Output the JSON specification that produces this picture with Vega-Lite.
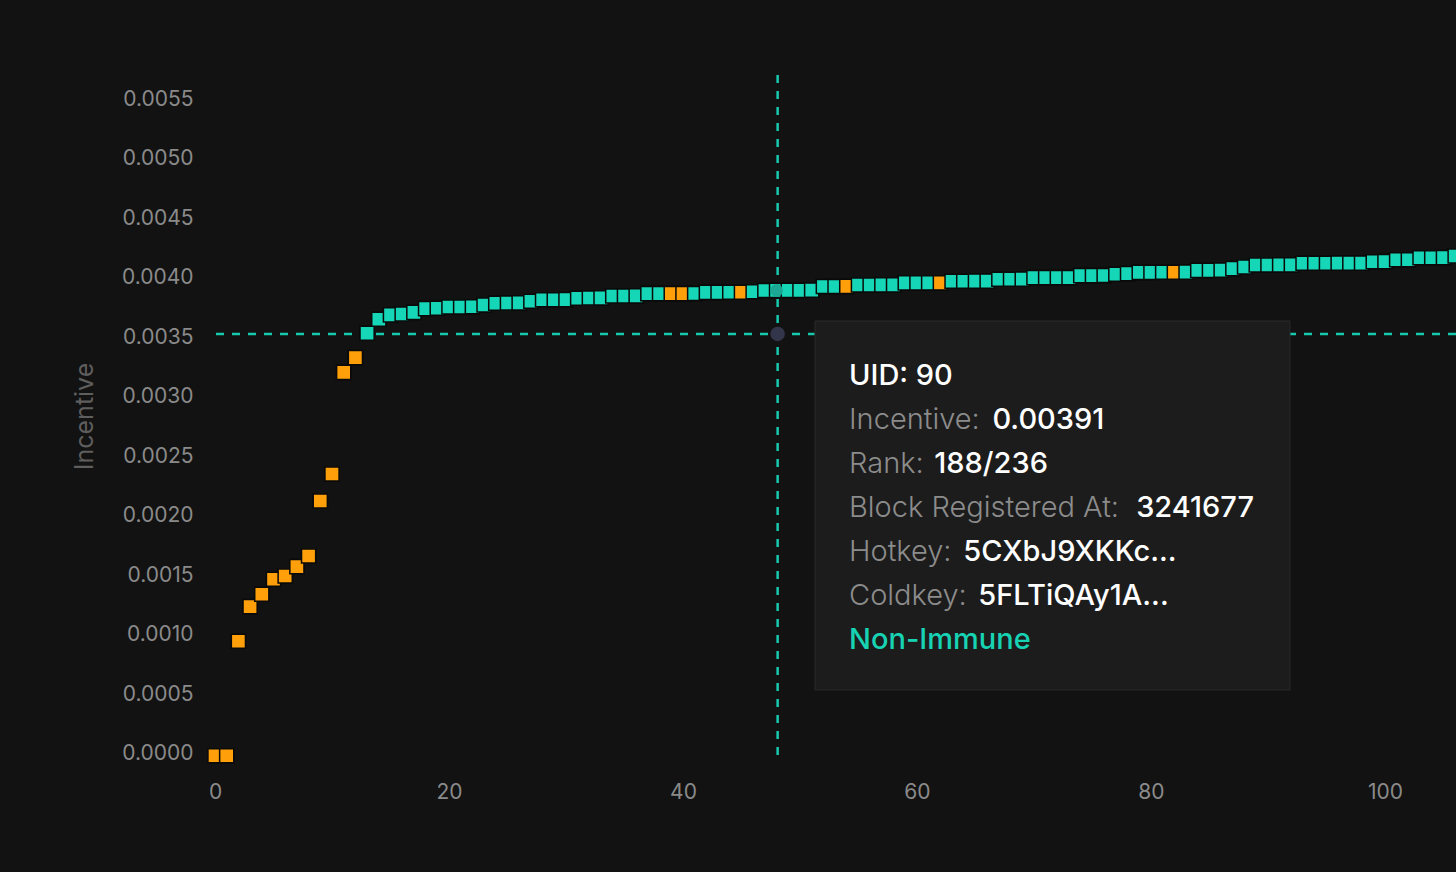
{
  "$schema": "https://vega.github.io/schema/vega-lite/v6.json",
  "width": 1241,
  "height": 682,
  "autosize": {"type": "none"},
  "padding": {"left": 215, "top": 75, "right": 0, "bottom": 115},
  "background": "#121212",
  "config": {
    "view": {"stroke": null},
    "font": "Inter",
    "axis": {
      "domain": false,
      "ticks": false,
      "grid": false,
      "labelFlush": false,
      "labelFont": "Inter",
      "labelFontSize": 21,
      "labelColor": "#8a8a8a",
      "titleFont": "Inter"
    }
  },
  "datasets": {
    "miners": [
      {"pos": 0, "incentive": 0, "status": "Immune"},
      {"pos": 1, "incentive": 0, "status": "Immune"},
      {"pos": 2, "incentive": 0.000962, "status": "Immune"},
      {"pos": 3, "incentive": 0.001253, "status": "Immune"},
      {"pos": 4, "incentive": 0.001357, "status": "Immune"},
      {"pos": 5, "incentive": 0.001483, "status": "Immune"},
      {"pos": 6, "incentive": 0.001511, "status": "Immune"},
      {"pos": 7, "incentive": 0.001589, "status": "Immune"},
      {"pos": 8, "incentive": 0.001679, "status": "Immune"},
      {"pos": 9, "incentive": 0.002141, "status": "Immune"},
      {"pos": 10, "incentive": 0.002368, "status": "Immune"},
      {"pos": 11, "incentive": 0.003222, "status": "Immune"},
      {"pos": 12, "incentive": 0.003345, "status": "Immune"},
      {"pos": 13, "incentive": 0.003550, "status": "Non-Immune"},
      {"pos": 14, "incentive": 0.003668, "status": "Non-Immune"},
      {"pos": 15, "incentive": 0.003704, "status": "Non-Immune"},
      {"pos": 16, "incentive": 0.003712, "status": "Non-Immune"},
      {"pos": 17, "incentive": 0.003726, "status": "Non-Immune"},
      {"pos": 18, "incentive": 0.003757, "status": "Non-Immune"},
      {"pos": 19, "incentive": 0.003760, "status": "Non-Immune"},
      {"pos": 20, "incentive": 0.003771, "status": "Non-Immune"},
      {"pos": 21, "incentive": 0.003771, "status": "Non-Immune"},
      {"pos": 22, "incentive": 0.003773, "status": "Non-Immune"},
      {"pos": 23, "incentive": 0.003788, "status": "Non-Immune"},
      {"pos": 24, "incentive": 0.003802, "status": "Non-Immune"},
      {"pos": 25, "incentive": 0.003804, "status": "Non-Immune"},
      {"pos": 26, "incentive": 0.003805, "status": "Non-Immune"},
      {"pos": 27, "incentive": 0.003819, "status": "Non-Immune"},
      {"pos": 28, "incentive": 0.003832, "status": "Non-Immune"},
      {"pos": 29, "incentive": 0.003832, "status": "Non-Immune"},
      {"pos": 30, "incentive": 0.003833, "status": "Non-Immune"},
      {"pos": 31, "incentive": 0.003844, "status": "Non-Immune"},
      {"pos": 32, "incentive": 0.003846, "status": "Non-Immune"},
      {"pos": 33, "incentive": 0.003847, "status": "Non-Immune"},
      {"pos": 34, "incentive": 0.003863, "status": "Non-Immune"},
      {"pos": 35, "incentive": 0.003863, "status": "Non-Immune"},
      {"pos": 36, "incentive": 0.003864, "status": "Non-Immune"},
      {"pos": 37, "incentive": 0.003883, "status": "Non-Immune"},
      {"pos": 38, "incentive": 0.003883, "status": "Non-Immune"},
      {"pos": 39, "incentive": 0.003883, "status": "Immune"},
      {"pos": 40, "incentive": 0.003883, "status": "Immune"},
      {"pos": 41, "incentive": 0.003884, "status": "Non-Immune"},
      {"pos": 42, "incentive": 0.003894, "status": "Non-Immune"},
      {"pos": 43, "incentive": 0.003894, "status": "Non-Immune"},
      {"pos": 44, "incentive": 0.003895, "status": "Non-Immune"},
      {"pos": 45, "incentive": 0.003895, "status": "Immune"},
      {"pos": 46, "incentive": 0.003899, "status": "Non-Immune"},
      {"pos": 47, "incentive": 0.003909, "status": "Non-Immune"},
      {"pos": 48, "incentive": 0.003910, "status": "Non-Immune"},
      {"pos": 49, "incentive": 0.003911, "status": "Non-Immune"},
      {"pos": 50, "incentive": 0.003911, "status": "Non-Immune"},
      {"pos": 51, "incentive": 0.003912, "status": "Non-Immune"},
      {"pos": 52, "incentive": 0.003943, "status": "Non-Immune"},
      {"pos": 53, "incentive": 0.003943, "status": "Non-Immune"},
      {"pos": 54, "incentive": 0.003944, "status": "Immune"},
      {"pos": 55, "incentive": 0.003956, "status": "Non-Immune"},
      {"pos": 56, "incentive": 0.003956, "status": "Non-Immune"},
      {"pos": 57, "incentive": 0.003957, "status": "Non-Immune"},
      {"pos": 58, "incentive": 0.003957, "status": "Non-Immune"},
      {"pos": 59, "incentive": 0.003973, "status": "Non-Immune"},
      {"pos": 60, "incentive": 0.003973, "status": "Non-Immune"},
      {"pos": 61, "incentive": 0.003974, "status": "Non-Immune"},
      {"pos": 62, "incentive": 0.003974, "status": "Immune"},
      {"pos": 63, "incentive": 0.003987, "status": "Non-Immune"},
      {"pos": 64, "incentive": 0.003987, "status": "Non-Immune"},
      {"pos": 65, "incentive": 0.003988, "status": "Non-Immune"},
      {"pos": 66, "incentive": 0.003988, "status": "Non-Immune"},
      {"pos": 67, "incentive": 0.004004, "status": "Non-Immune"},
      {"pos": 68, "incentive": 0.004004, "status": "Non-Immune"},
      {"pos": 69, "incentive": 0.004005, "status": "Non-Immune"},
      {"pos": 70, "incentive": 0.004017, "status": "Non-Immune"},
      {"pos": 71, "incentive": 0.004017, "status": "Non-Immune"},
      {"pos": 72, "incentive": 0.004018, "status": "Non-Immune"},
      {"pos": 73, "incentive": 0.004018, "status": "Non-Immune"},
      {"pos": 74, "incentive": 0.004034, "status": "Non-Immune"},
      {"pos": 75, "incentive": 0.004034, "status": "Non-Immune"},
      {"pos": 76, "incentive": 0.004035, "status": "Non-Immune"},
      {"pos": 77, "incentive": 0.004046, "status": "Non-Immune"},
      {"pos": 78, "incentive": 0.004051, "status": "Non-Immune"},
      {"pos": 79, "incentive": 0.004062, "status": "Non-Immune"},
      {"pos": 80, "incentive": 0.004062, "status": "Non-Immune"},
      {"pos": 81, "incentive": 0.004063, "status": "Non-Immune"},
      {"pos": 82, "incentive": 0.004063, "status": "Immune"},
      {"pos": 83, "incentive": 0.004064, "status": "Non-Immune"},
      {"pos": 84, "incentive": 0.004079, "status": "Non-Immune"},
      {"pos": 85, "incentive": 0.004079, "status": "Non-Immune"},
      {"pos": 86, "incentive": 0.004080, "status": "Non-Immune"},
      {"pos": 87, "incentive": 0.004093, "status": "Non-Immune"},
      {"pos": 88, "incentive": 0.004107, "status": "Non-Immune"},
      {"pos": 89, "incentive": 0.004124, "status": "Non-Immune"},
      {"pos": 90, "incentive": 0.004124, "status": "Non-Immune"},
      {"pos": 91, "incentive": 0.004125, "status": "Non-Immune"},
      {"pos": 92, "incentive": 0.004125, "status": "Non-Immune"},
      {"pos": 93, "incentive": 0.004138, "status": "Non-Immune"},
      {"pos": 94, "incentive": 0.004138, "status": "Non-Immune"},
      {"pos": 95, "incentive": 0.004138, "status": "Non-Immune"},
      {"pos": 96, "incentive": 0.004139, "status": "Non-Immune"},
      {"pos": 97, "incentive": 0.004139, "status": "Non-Immune"},
      {"pos": 98, "incentive": 0.004139, "status": "Non-Immune"},
      {"pos": 99, "incentive": 0.004151, "status": "Non-Immune"},
      {"pos": 100, "incentive": 0.004152, "status": "Non-Immune"},
      {"pos": 101, "incentive": 0.004168, "status": "Non-Immune"},
      {"pos": 102, "incentive": 0.004168, "status": "Non-Immune"},
      {"pos": 103, "incentive": 0.004185, "status": "Non-Immune"},
      {"pos": 104, "incentive": 0.004185, "status": "Non-Immune"},
      {"pos": 105, "incentive": 0.004186, "status": "Non-Immune"},
      {"pos": 106, "incentive": 0.004199, "status": "Non-Immune"}
    ],
    "tip": [
      {"line": 1, "label": "UID:", "text": "UID: 90"},
      {"line": 2, "label": "Incentive:", "text": "Incentive: 0.00391"},
      {"line": 3, "label": "Rank:", "text": "Rank: 188/236"},
      {"line": 4, "label": "Block Registered At:", "text": "Block Registered At: 3241677"},
      {"line": 5, "label": "Hotkey:", "text": "Hotkey: 5CXbJ9XKKc..."},
      {"line": 6, "label": "Coldkey:", "text": "Coldkey: 5FLTiQAy1A..."},
      {"line": 7, "label": "Non-Immune", "text": "Non-Immune"}
    ]
  },
  "layer": [
    {
      "layer": [
        {
          "data": {"name": "miners"},
          "mark": {"type": "point", "shape": "square", "filled": true, "size": 200, "stroke": "#0a0a0a", "strokeWidth": 1.5, "opacity": 1},
          "encoding": {
            "x": {
              "field": "pos",
              "type": "quantitative",
              "scale": {"domain": [0, 106.07], "nice": false, "zero": false},
              "axis": {"values": [0, 20, 40, 60, 80, 100], "labelPadding": 24, "title": null}
            },
            "y": {
              "field": "incentive",
              "type": "quantitative",
              "scale": {"domain": [-0.0000101, 0.00572], "nice": false, "zero": false},
              "axis": {
                "values": [0, 0.0005, 0.001, 0.0015, 0.002, 0.0025, 0.003, 0.0035, 0.004, 0.0045, 0.005, 0.0055],
                "format": ".4f",
                "labelPadding": 22,
                "labelOffset": -2,
                "title": "Incentive",
                "titleColor": "#5e5e5e",
                "titleFontSize": 25,
                "titleFontWeight": "normal",
                "titlePadding": 24
              }
            },
            "color": {
              "field": "status",
              "type": "nominal",
              "scale": {"domain": ["Immune", "Non-Immune"], "range": ["#ff9f0a", "#15d6b6"]},
              "legend": null
            }
          }
        },
        {
          "data": {"values": [{}]},
          "mark": {"type": "rule", "color": "#17c9ad", "strokeWidth": 2.5, "strokeDash": [8, 8]},
          "encoding": {
            "x": {"datum": 48.09, "type": "quantitative"}
          }
        },
        {
          "data": {"values": [{}]},
          "mark": {"type": "rule", "color": "#17c9ad", "strokeWidth": 2.5, "strokeDash": [8, 8]},
          "encoding": {
            "y": {"datum": 0.003544, "type": "quantitative"}
          }
        },
        {
          "data": {"name": "miners"},
          "transform": [{"filter": "datum.pos >= 0"}],
          "mark": {"type": "point", "shape": "square", "filled": true, "size": 200, "stroke": "#0a0a0a", "strokeWidth": 1.5, "opacity": 1},
          "encoding": {
            "x": {"field": "pos", "type": "quantitative"},
            "y": {"field": "incentive", "type": "quantitative"},
            "color": {"field": "status", "type": "nominal", "legend": null}
          }
        },
        {
          "data": {"name": "miners"},
          "transform": [{"filter": "datum.pos == 48"}],
          "mark": {"type": "circle", "size": 160, "color": "#1ba894", "opacity": 1},
          "encoding": {
            "x": {"field": "pos", "type": "quantitative"},
            "y": {"field": "incentive", "type": "quantitative"}
          }
        },
        {
          "data": {"values": [{}]},
          "mark": {"type": "circle", "size": 210, "color": "#33354a", "opacity": 1},
          "encoding": {
            "x": {"datum": 48.09, "type": "quantitative"},
            "y": {"datum": 0.003544, "type": "quantitative"}
          }
        },
        {
          "data": {"values": [{}]},
          "mark": {"type": "rect", "fill": "#1c1c1c", "stroke": "#2a2a2a", "strokeWidth": 1},
          "encoding": {
            "x": {"datum": 51.28, "type": "quantitative"},
            "x2": {"datum": 91.88},
            "y": {"datum": 0.003653, "type": "quantitative"},
            "y2": {"datum": 0.000553}
          }
        }
      ]
    },
    {
      "data": {"name": "tip"},
      "encoding": {
        "x": {"datum": 54.19, "type": "quantitative"},
        "y": {
          "field": "line",
          "type": "quantitative",
          "scale": {"domain": [-6.045, 9.455], "reverse": true, "nice": false, "zero": false},
          "axis": null
        }
      },
      "layer": [
        {
          "transform": [{"filter": "datum.line <= 6"}],
          "mark": {"type": "text", "align": "left", "baseline": "alphabetic", "font": "Inter", "fontSize": 29, "fontWeight": 500, "color": "#ffffff"},
          "encoding": {"text": {"field": "text"}}
        },
        {
          "transform": [{"filter": "datum.line >= 2 && datum.line <= 6"}],
          "mark": {"type": "text", "align": "left", "baseline": "alphabetic", "font": "Inter", "fontSize": 29, "fontWeight": 500, "fill": "#1c1c1c", "stroke": "#1c1c1c", "strokeWidth": 2},
          "encoding": {"text": {"field": "label"}}
        },
        {
          "transform": [{"filter": "datum.line >= 2 && datum.line <= 6"}],
          "mark": {"type": "text", "align": "left", "baseline": "alphabetic", "font": "Inter", "fontSize": 29, "fontWeight": 300, "color": "#8c8c8c"},
          "encoding": {"text": {"field": "label"}}
        },
        {
          "transform": [{"filter": "datum.line == 7"}],
          "mark": {"type": "text", "align": "left", "baseline": "alphabetic", "font": "Inter", "fontSize": 29, "fontWeight": 500, "color": "#17d3b4"},
          "encoding": {"text": {"field": "text"}}
        }
      ]
    }
  ],
  "resolve": {"scale": {"y": "independent"}}
}
